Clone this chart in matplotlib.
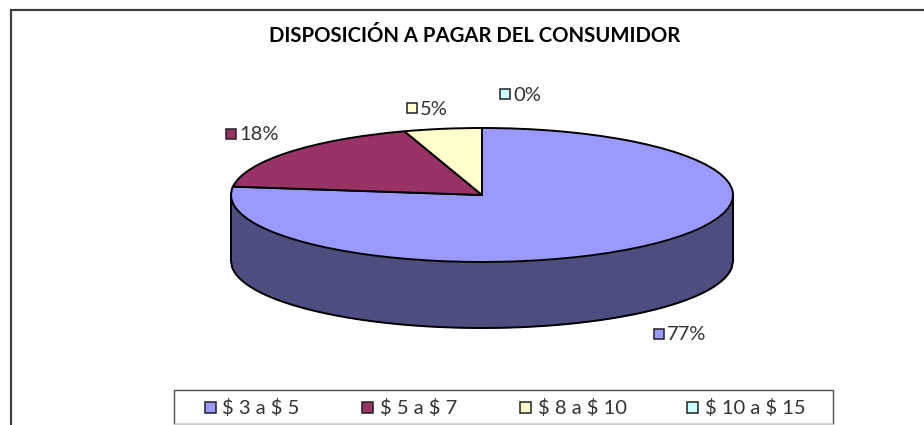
import matplotlib
matplotlib.use("Agg")
import matplotlib.pyplot as plt
from matplotlib.patches import Rectangle
import numpy as np

title = "DISPOSICIÓN A PAGAR DEL CONSUMIDOR"
categories = ["$ 3 a $ 5", "$ 5 a $ 7", "$ 8 a $ 10", "$ 10 a $ 15"]
values = [77, 18, 5, 0]
colors = ["#9999FF", "#993366", "#FFFFCC", "#CCFFFF"]
side_color = "#4D4D80"

W, H = 924, 425
cx, cy, rx, ry, depth = 482, 195, 251, 67, 66
FONT = "Lato"

fig = plt.figure(figsize=(W / 100, H / 100), dpi=100, facecolor="white")

# pie axes: unit circle mapped on to the projected ellipse
ax = fig.add_axes([0, 0, 1, 1])
ax.pie(values, colors=colors, startangle=90, counterclock=False, radius=1,
       wedgeprops=dict(edgecolor="black", linewidth=1.4, zorder=3))
ax.set_aspect("auto")
ax.set_xlim((0 - cx) / rx, (W - cx) / rx)
ax.set_ylim((cy - H) / ry, cy / ry)
ax.axis("off")
d = depth / ry
x = np.linspace(-1, 1, 400)
low = -np.sqrt(1 - x ** 2)
ax.fill_between(x, low - d, low, color=side_color, lw=0, zorder=1)
ax.plot(x, low - d, color="black", lw=1.4, zorder=2)
ax.plot([-1, -1], [0, -d], color="black", lw=1.4, zorder=2)
ax.plot([1, 1], [0, -d], color="black", lw=1.4, zorder=2)

# overlay in pixel coordinates
ov = fig.add_axes([0, 0, 1, 1], facecolor="none")
ov.set_xlim(0, W)
ov.set_ylim(H, 0)
ov.axis("off")

# chart frame
ov.plot([11, 11, W], [H, 10, 10], color="#404040", lw=1.6, solid_joinstyle="miter")

ov.text(475, 35.5, title, ha="center", va="center", fontsize=14.6,
        fontweight="bold", family=FONT, color="black")

def swatch(x0, yc, color, s=10):
    ov.add_patch(Rectangle((x0, yc - s / 2), s, s, facecolor=color,
                           edgecolor="#202020", lw=1.1))

# data labels
label_pos = [(654, 334), (226, 134), (407, 108), (500, 94)]
for v, c, (lx, ly) in zip(values, colors, label_pos):
    swatch(lx, ly, c)
    ov.text(lx + 13, ly + 1, f"{v}%", ha="left", va="center", fontsize=14.5,
            family=FONT, color="#333333")

# legend box
ov.add_patch(Rectangle((174, 390), 659, 34, facecolor="white",
                       edgecolor="#505050", lw=1.0))
ov.plot([174, 833], [424, 424], color="#cccccc", lw=1.0)
leg_x = [204.5, 362, 520, 687]
for xx, name, c in zip(leg_x, categories, colors):
    swatch(xx, 407, c, s=11)
    ov.text(xx + 18, 408, name.replace("$", r"\$"), ha="left", va="center", fontsize=14.5,
            family=FONT, color="#333333")

fig.savefig("out.png", dpi=100)
